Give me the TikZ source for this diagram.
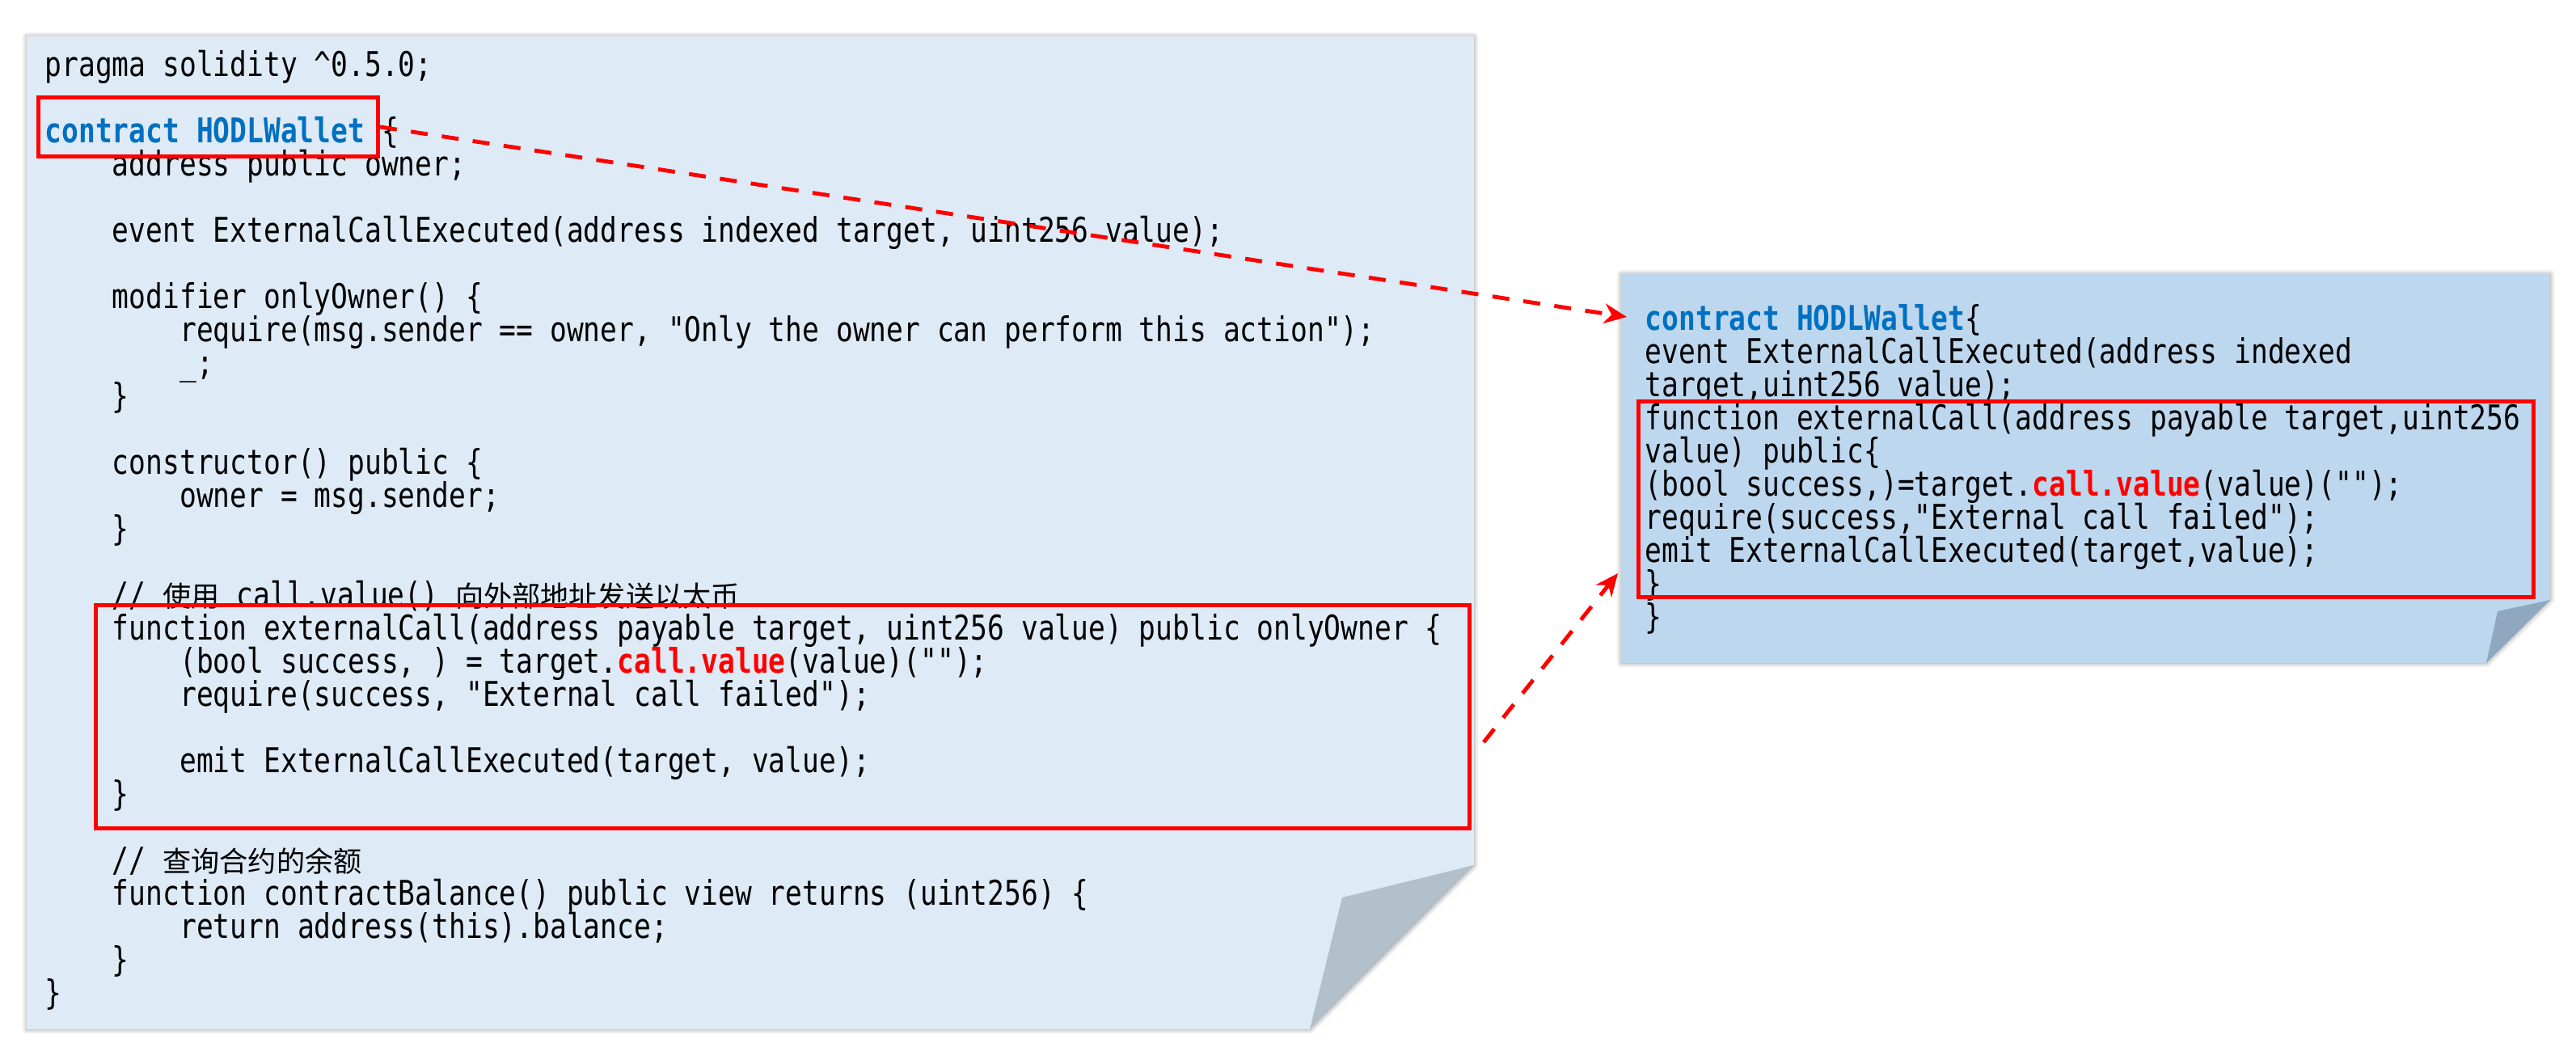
\documentclass[tikz,border=0pt]{standalone}
\usepackage{fontspec}
\newfontfamily\codefont{DejaVu Sans Mono}[FakeStretch=0.82,WordSpace={1,0,0}]
\newfontfamily\cjk{Noto Sans CJK SC}
\usetikzlibrary{shadows.blur,arrows.meta}
\definecolor{sheetA}{HTML}{DEEAF6}
\definecolor{sheetB}{HTML}{BDD7EE}
\definecolor{foldA}{HTML}{B3BFCA}
\definecolor{foldB}{HTML}{8FA8BF}
\definecolor{kwblue}{HTML}{0070C0}
\newcommand\tb{\phantom{xxxx}}
\newcommand\kw[1]{\textbf{\textcolor{kwblue}{#1}}}
\newcommand\hl[1]{\textbf{\textcolor{red}{#1}}}
\tikzset{
  code/.style={inner sep=0pt, align=left, font={\codefont\fontsize{12}{11.66}\selectfont\lineskiplimit=-20pt\lineskip=0pt}},
  redbox/.style={draw=red, line width=1.4pt, inner sep=0pt},
  link/.style={draw=red, line width=1.4pt, dashed, dash pattern=on 6pt off 5pt, -{Stealth[length=8pt,width=7pt]}},
  sheet/.style={blur shadow={shadow xshift=0.04, shadow yshift=-0.04, shadow blur steps=8}}
}
\begin{document}
\begin{tikzpicture}
\useasboundingbox (0,0) rectangle (31.86,-13.1);
% sheets
\fill[sheetA, sheet] (0.33,-0.45) -- (18.23,-0.45) -- (18.23,-10.70) -- (16.20,-12.73) -- (0.33,-12.73) -- cycle;
\fill[foldA] (18.23,-10.70) -- (16.60,-11.10) -- (16.20,-12.73) -- cycle;
\fill[sheetB, sheet] (20.05,-3.39) -- (31.54,-3.39) -- (31.54,-7.42) -- (30.75,-8.20) -- (20.05,-8.20) -- cycle;
\fill[foldB] (31.54,-7.42) -- (30.89,-7.56) -- (30.75,-8.20) -- cycle;
% left code
\node[code, anchor=north west] (src) at (0.55,-0.62) {%
pragma solidity \textasciicircum0.5.0;\\
\strut\\
\kw{contract HODLWallet} \{\\
\tb address public owner;\\
\strut\\
\tb event ExternalCallExecuted(address indexed target, uint256 value);\\
\strut\\
\tb modifier onlyOwner() \{\\
\tb\tb require(msg.sender == owner, "Only the owner can perform this action");\\
\tb\tb \_;\\
\tb \}\\
\strut\\
\tb constructor() public \{\\
\tb\tb owner = msg.sender;\\
\tb \}\\
\strut\\
\tb // {\cjk\fontsize{10}{11.6}\selectfont 使用} call.value() {\cjk\fontsize{10}{11.6}\selectfont 向外部地址发送以太币}\\
\tb function externalCall(address payable target, uint256 value) public onlyOwner \{\\
\tb\tb (bool success, ) = target.\hl{call.value}(value)("");\\
\tb\tb require(success, "External call failed");\\
\strut\\
\tb\tb emit ExternalCallExecuted(target, value);\\
\tb \}\\
\strut\\
\tb // {\cjk\fontsize{10}{11.6}\selectfont 查询合约的余额}\\
\tb function contractBalance() public view returns (uint256) \{\\
\tb\tb return address(this).balance;\\
\tb \}\\
\}};
% right code
\node[code, anchor=north west] (dst) at (20.34,-3.76) {%
\kw{contract HODLWallet}\{\\
event ExternalCallExecuted(address indexed\\
target,uint256 value);\\
function externalCall(address payable target,uint256\\
value) public\{\\
(bool success,)=target.\hl{call.value}(value)("");\\
require(success,"External call failed");\\
emit ExternalCallExecuted(target,value);\\
\}\\
\}};
% marks
\node[redbox, minimum width=4.2cm, minimum height=0.73cm, anchor=north west] (boxA) at (0.45,-1.18) {};
\node[redbox, minimum width=16.99cm, minimum height=2.76cm, anchor=north west] (boxB) at (1.16,-7.46) {};
\node[redbox, minimum width=11.07cm, minimum height=2.42cm, anchor=north west] (boxC) at (20.24,-4.94) {};
\coordinate (fromB) at (18.35,-9.18);
\coordinate (toC) at (20.01,-7.09);
\coordinate (toA) at (20.12,-3.92);
% links
\draw[link] (boxA.east) -- (toA);
\draw[link] (fromB) -- (toC);
\end{tikzpicture}
\end{document}
